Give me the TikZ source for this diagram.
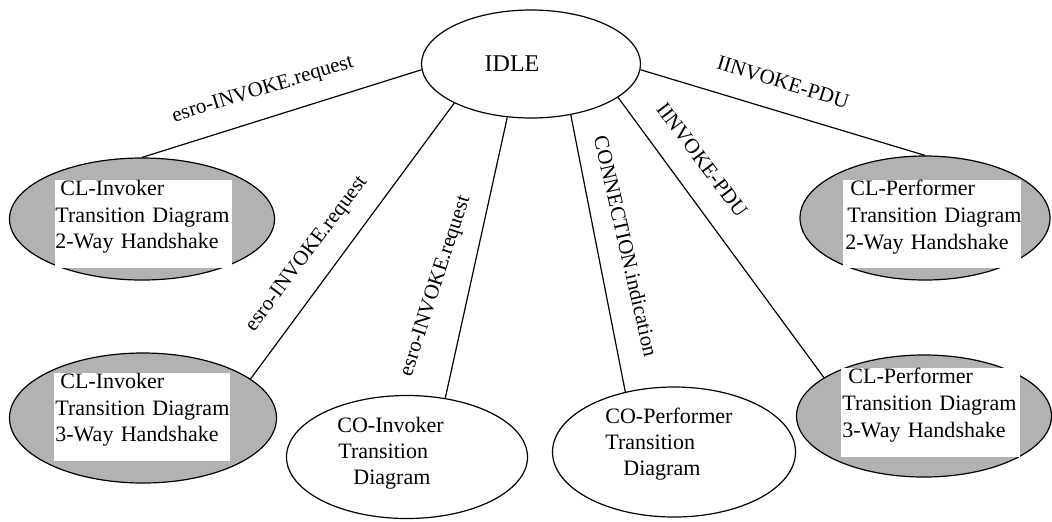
\documentclass[tikz,border=0pt]{standalone}
\usepackage{fontspec}
\setmainfont{Liberation Serif}
\usetikzlibrary{shapes.geometric}
\tikzstyle{state} = [draw=black, ellipse, line width=0.6pt, inner sep=0pt]
\tikzstyle{cless} = [state, fill=black!30]
\tikzstyle{conn} = [state, fill=white]
\tikzstyle{inbox} = [fill=white, anchor=north west, inner sep=0pt, text width=88.5pt, align=left, font={\fontsize{11}{13.3}\selectfont}]
\tikzstyle{intext} = [anchor=north west, inner sep=0pt, align=left, font={\fontsize{11}{13}\selectfont}]
\tikzstyle{lbl} = [inner sep=0pt, font={\fontsize{10.5}{12}\selectfont}]
\tikzstyle{trans} = [line width=0.6pt]

\begin{document}
\begin{tikzpicture}[x=0.5pt,y=0.5pt]
  \useasboundingbox (0,0) rectangle (1052,-521);
  \node[conn,minimum width=109.5pt,minimum height=54pt](idle) at (531,-64){};
  \node[inner sep=0pt,font={\fontsize{12}{14}\selectfont}](idlet) at (512,-64){IDLE};
  \node[cless,minimum width=132.5pt,minimum height=61pt](cli2) at (142,-219){};
  \node[cless,minimum width=133.5pt,minimum height=65pt](cli3) at (143,-418){};
  \node[conn,minimum width=120.5pt,minimum height=61.5pt](coi) at (407,-457){};
  \node[conn,minimum width=121.5pt,minimum height=65pt](cop) at (674,-452){};
  \node[cless,minimum width=125pt,minimum height=62pt](clp2) at (925,-218){};
  \node[cless,minimum width=127.5pt,minimum height=61pt](clp3) at (924,-416){};
  % text inside the states
  \node[inbox](cli2t) at (55,-180){\rule{0pt}{7.5pt}\hspace*{2.5pt}CL-Invoker\\\mbox{Transition Diagram}\\2-Way Handshake\rule[-9.5pt]{0pt}{9.5pt}};
  \node[inbox,text width=88pt](cli3t) at (54,-373){\rule{0pt}{7.5pt}\hspace*{3pt}CL-Invoker\\\hspace*{0.5pt}\mbox{Transition Diagram}\\\hspace*{0.5pt}3-Way Handshake\rule[-9.5pt]{0pt}{9.5pt}};
  \node[inbox,text width=89pt](clp2t) at (843,-180){\rule{0pt}{7.5pt}\hspace*{3.5pt}CL-Performer\\\hspace*{2pt}\mbox{Transition Diagram}\\\hspace*{1pt}2-Way Handshake\rule[-9.5pt]{0pt}{9.5pt}};
  \node[inbox,text width=89.5pt](clp3t) at (841,-368){\rule{0pt}{7.5pt}\hspace*{3.5pt}CL-Performer\\\hspace*{0.5pt}\mbox{Transition Diagram}\\\hspace*{0.5pt}3-Way Handshake\rule[-10pt]{0pt}{10pt}};
  \node[intext](coit) at (337,-417){CO-Invoker\\\hspace*{0.5pt}Transition\\\hspace*{8pt}Diagram};
  \node[intext](copt) at (605,-408){CO-Performer\\Transition\\\hspace*{9pt}Diagram};
  % transitions
  \draw[trans](idle.183)--(cli2.north);
  \draw[trans](idle.207)--(cli3.20);
  \draw[trans](idle.246)--(coi.57);
  \draw[trans](idle.308)--(cop.129);
  \draw[trans](idle.339)--(clp3.159);
  \draw[trans](idle.357)--(clp2.north);
  \node[lbl,rotate=17](l1) at (263,-90){esro-INVOKE.request};
  \node[lbl,rotate=53](l2) at (307,-254){esro-INVOKE.request};
  \node[lbl,rotate=72](l3) at (436,-286){esro-INVOKE.request};
  \node[lbl,rotate=-77](l4) at (626,-246){CONNECTION.indication};
  \node[lbl,rotate=-53](l5) at (702,-160){IINVOKE-PDU};
  \node[lbl,rotate=-17](l6) at (783,-82){IINVOKE-PDU};
\end{tikzpicture}
\end{document}
